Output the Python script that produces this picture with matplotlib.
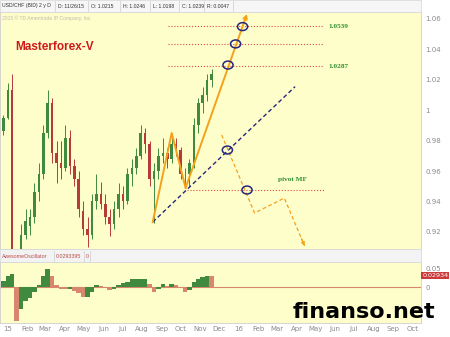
import pandas as pd
import matplotlib
matplotlib.use("Agg")
import matplotlib.pyplot as plt
import matplotlib.dates as mdates
from matplotlib.patches import Ellipse, Rectangle
from matplotlib.lines import Line2D
from matplotlib.ticker import FuncFormatter
from matplotlib.transforms import ScaledTranslation, blended_transform_factory

# USD/CHF weekly bars, week starting dates
week_start = pd.date_range("2014-12-29", periods=48, freq="7D")
opens = [0.986, 0.995, 1.013, 0.870, 0.865, 0.918, 0.924, 0.930, 0.946, 0.958,
         0.985, 1.005, 0.972, 0.965, 0.962, 0.982, 0.963, 0.955, 0.934, 0.922,
         0.918, 0.940, 0.945, 0.938, 0.930, 0.925, 0.935, 0.945, 0.940, 0.958,
         0.962, 0.970, 0.985, 0.978, 0.955, 0.960, 0.970, 0.972, 0.968, 0.978,
         0.974, 0.958, 0.958, 0.965, 0.990, 1.005, 1.010, 1.020]
highs = [0.997, 1.018, 1.024, 0.890, 0.925, 0.935, 0.935, 0.952, 0.965, 0.990,
         1.013, 1.008, 0.980, 0.980, 0.990, 0.987, 0.968, 0.960, 0.940, 0.930,
         0.945, 0.958, 0.953, 0.945, 0.935, 0.940, 0.952, 0.950, 0.962, 0.968,
         0.975, 0.990, 0.988, 0.980, 0.965, 0.975, 0.982, 0.975, 0.985, 0.982,
         0.976, 0.962, 0.968, 0.995, 1.008, 1.015, 1.024, 1.027]
lows = [0.984, 0.994, 0.740, 0.850, 0.860, 0.915, 0.918, 0.926, 0.940, 0.955,
        0.982, 0.965, 0.952, 0.955, 0.960, 0.958, 0.950, 0.930, 0.918, 0.910,
        0.915, 0.935, 0.935, 0.925, 0.917, 0.922, 0.930, 0.935, 0.938, 0.950,
        0.958, 0.968, 0.972, 0.950, 0.926, 0.955, 0.965, 0.962, 0.965, 0.970,
        0.955, 0.949, 0.950, 0.962, 0.985, 0.998, 1.006, 1.015]
closes = [0.995, 1.013, 0.870, 0.865, 0.918, 0.927, 0.930, 0.946, 0.958, 0.985,
          1.005, 0.972, 0.965, 0.962, 0.982, 0.963, 0.955, 0.935, 0.922, 0.918,
          0.940, 0.945, 0.938, 0.930, 0.925, 0.935, 0.945, 0.940, 0.958, 0.962,
          0.970, 0.985, 0.978, 0.955, 0.960, 0.970, 0.972, 0.968, 0.978, 0.974,
          0.958, 0.958, 0.965, 0.990, 1.005, 1.010, 1.020, 1.024]
ao_values = [0.015, 0.028, 0.035, -0.090, -0.058, -0.037, -0.029, -0.012, 0.004, 0.030,
             0.048, 0.030, 0.005, -0.004, -0.006, -0.004, -0.010, -0.015, -0.026, -0.025,
             -0.013, 0.006, 0.002, -0.003, -0.008, -0.006, 0.004, 0.010, 0.012, 0.020,
             0.020, 0.020, 0.022, 0.008, -0.013, -0.004, 0.007, 0.003, 0.009, 0.005,
             0.000, -0.012, -0.007, 0.012, 0.020, 0.026, 0.030, 0.029]
ao_last = 0.02934

# analysis drawn on top of the chart
zigzag_dates = pd.to_datetime(["2015-08-24", "2015-09-23", "2015-10-15", "2016-01-20"])
zigzag_prices = [0.9264, 0.9850, 0.9489, 1.0633]
trend_dates = pd.to_datetime(["2015-08-24", "2016-04-05"])
trend_prices = [0.9264, 1.0155]
forecast_dates = pd.to_datetime(["2015-12-11", "2016-02-01", "2016-03-19", "2016-04-20"])
forecast_prices = [0.9837, 0.9324, 0.9422, 0.9107]
level_prices = [1.0553, 1.0436, 1.0290]
level_labels = ["1.0539", "", "1.0287"]
level_span = pd.to_datetime(["2015-09-17", "2016-05-21"])
pivot_price = 0.9475
pivot_span = pd.to_datetime(["2015-10-17", "2016-05-21"])
circle_dates = pd.to_datetime(["2015-12-21", "2016-01-02", "2016-01-13", "2015-12-20", "2016-01-20"])
circle_prices = [1.0297, 1.0436, 1.0550, 0.9738, 0.9475]

price_ticks = [0.92, 0.94, 0.96, 0.98, 1.0, 1.02, 1.04, 1.06]
ao_ticks = [0, 0.05]
header = ["USD/CHF (BID) 2 y D", "D: 11/26/15", "O: 1.0215", "H: 1.0246",
          "L: 1.0198", "C: 1.0239", "R: 0.0047"]

BG = "#fefecb"
UP, DOWN = "#3f8a3f", "#b73a3a"
ORANGE = "#f4a21c"
NAVY = "#26267e"
GREEN_TXT = "#2f8f2f"

W, H = 450, 337
fig = plt.figure(figsize=(4.5, 3.37), dpi=100, facecolor="white")


def fx(px):
    return px / W


def fy(py):
    return 1 - py / H


ax = fig.add_axes([0, fy(249), 421 / W, (249 - 12) / H], facecolor=BG)
ax_ao = fig.add_axes([0, fy(323), 421 / W, (323 - 262) / H], facecolor=BG, sharex=ax)

# candles
xc = mdates.date2num(week_start) + 2
colors = [UP if c >= o else DOWN for o, c in zip(opens, closes)]
ax.vlines(xc, lows, highs, colors=colors, lw=0.7, zorder=2)
ax.bar(xc, [c - o for o, c in zip(opens, closes)], bottom=opens, width=4.0,
       color=colors, linewidth=0, zorder=2)

# awesome oscillator
ao_colors = [UP if i == 0 or v >= ao_values[i - 1] else "#d8876c"
             for i, v in enumerate(ao_values)]
ax_ao.bar(xc, ao_values, width=7, color=ao_colors, linewidth=0, zorder=2)
ax_ao.axhline(0, color="#d8876c", lw=0.8, zorder=1)

# levels
ax.hlines(level_prices, level_span[0], level_span[1], colors="#e04a4a",
          lw=0.8, linestyles=":", zorder=3)
for p, lab in zip(level_prices, level_labels):
    if lab:
        ax.annotate(lab, (level_span[1], p), xytext=(3, 0), textcoords="offset points",
                    va="center", ha="left", fontsize=5.2, fontweight="bold",
                    family="Liberation Serif", color=GREEN_TXT)
ax.hlines(pivot_price, pivot_span[0], pivot_span[1], colors="#e04a4a",
          lw=0.8, linestyles=":", zorder=3)
ax.annotate("pivot MF", (pd.Timestamp("2016-04-01"), pivot_price), xytext=(0, 6),
            textcoords="offset points", ha="center", va="bottom", fontsize=5.2,
            fontweight="bold", family="Liberation Serif", color=GREEN_TXT)

# trend line
ax.plot(trend_dates, trend_prices, color=NAVY, lw=1.0, ls=(0, (3, 2)), zorder=4)

# zigzag with arrow
ax.plot(zigzag_dates[:-1], zigzag_prices[:-1], color=ORANGE, lw=1.4, zorder=5)
ax.annotate("", xy=(zigzag_dates[-1], zigzag_prices[-1]),
            xytext=(zigzag_dates[-2], zigzag_prices[-2]),
            arrowprops=dict(arrowstyle="-|>", color=ORANGE, lw=1.4,
                            mutation_scale=6, shrinkA=0, shrinkB=0), zorder=5)

# dashed forecast with arrow head
ax.plot(forecast_dates, forecast_prices, color=ORANGE, lw=0.9, ls=(0, (3, 2)), zorder=5)
fx_end = mdates.date2num(forecast_dates[-1])
fx_prev = mdates.date2num(forecast_dates[-2])
ax.annotate("", xy=(fx_end, forecast_prices[-1]),
            xytext=(fx_end + 0.15 * (fx_prev - fx_end),
                    forecast_prices[-1] + 0.15 * (forecast_prices[-2] - forecast_prices[-1])),
            arrowprops=dict(arrowstyle="-|>", color=ORANGE, lw=0.9,
                            mutation_scale=5, shrinkA=0, shrinkB=0), zorder=5)

# circles
for d, p in zip(circle_dates, circle_prices):
    ax.add_patch(Ellipse((mdates.date2num(d), p), width=16, height=0.0052,
                         fill=False, edgecolor=NAVY, lw=1.1, zorder=6))

# axes limits / ticks
x0 = mdates.date2num(pd.Timestamp("2014-12-25 16:00"))
x1 = mdates.date2num(pd.Timestamp("2016-10-21"))
ax.set_xlim(x0, x1)
ax.set_ylim(0.9087, 1.0646)
ax_ao.set_ylim(-0.0947, 0.0658)

for a in (ax, ax_ao):
    a.yaxis.tick_right()
    a.tick_params(axis="y", length=0, pad=3, labelsize=5, labelcolor="#8a8a8a")
    for s in a.spines.values():
        s.set_color("#cfcfcf")
        s.set_linewidth(0.6)

ax.set_yticks(price_ticks)
ax.yaxis.set_major_formatter(FuncFormatter(lambda v, _: f"{v:g}"))
ax.tick_params(axis="x", length=0, labelbottom=False)
ax_ao.set_yticks(ao_ticks)
ax_ao.yaxis.set_major_formatter(FuncFormatter(lambda v, _: f"{v:g}"))

ax_ao.xaxis.set_major_locator(mdates.MonthLocator())
ax_ao.xaxis.set_major_formatter(FuncFormatter(
    lambda v, _: mdates.num2date(v).strftime("%y") if mdates.num2date(v).month == 1
    else mdates.num2date(v).strftime("%b")))
ax_ao.tick_params(axis="x", length=0, pad=2.5, labelsize=5, labelcolor="#8a8a8a")
for lab in ax_ao.get_xticklabels():
    lab.set_transform(lab.get_transform() + ScaledTranslation(0.04, 0, fig.dpi_scale_trans))

# last AO value tag
ax_ao.text(1.003, ao_last, f"{ao_last:.5f}",
           transform=blended_transform_factory(ax_ao.transAxes, ax_ao.transData),
           va="center", ha="left", fontsize=4.6, color="white",
           bbox=dict(boxstyle="square,pad=0.15", fc="#cc3b3b", ec="none"), clip_on=False)

# header strips
fig.patches.append(Rectangle((0, fy(12)), fx(421), 12 / H, transform=fig.transFigure,
                             fc="#f6f6f6", ec="#d6d6d6", lw=0.5))
fig.patches.append(Rectangle((0, fy(262)), fx(421), 13 / H, transform=fig.transFigure,
                             fc="#f3f3f3", ec="#d6d6d6", lw=0.5))
xpos = [2, 58, 91, 123, 153, 182, 207]
for xp, t in zip(xpos, header):
    fig.text(fx(xp), fy(6), t, fontsize=3.7, family="Liberation Sans",
             color="#333333", va="center")
for xp in xpos[1:] + [236]:
    fig.add_artist(Line2D([fx(xp - 3)] * 2, [fy(11), fy(1)], color="#cccccc", lw=0.5))
ao_head = [(2, "AwesomeOscillator"), (56, "0.0293395"), (86, "0")]
for xp, t in ao_head:
    fig.text(fx(xp), fy(256), t, fontsize=3.8, family="Liberation Sans",
             color="#b84a4a", va="center")
for xp in (54, 84, 90):
    fig.add_artist(Line2D([fx(xp)] * 2, [fy(261), fy(251)], color="#cccccc", lw=0.5))

ax.text(2 / 421, (249 - 18) / 237, "2015 \u00a9 TD Ameritrade IP Company, Inc.",
        transform=ax.transAxes, fontsize=3.6, family="Liberation Sans",
        color="#bdbda8", va="center")
ax.text(15 / 421, (249 - 50) / 237, "Masterforex-V", transform=ax.transAxes,
        fontsize=8.5, fontweight="bold", family="Liberation Sans", color="#cc1a1a",
        va="baseline")

fig.text(fx(293), fy(318), "finanso.net", fontsize=16, fontweight="bold",
         family="DejaVu Sans", color="black", va="baseline", zorder=10)

fig.savefig("out.png", dpi=100, facecolor="white")
